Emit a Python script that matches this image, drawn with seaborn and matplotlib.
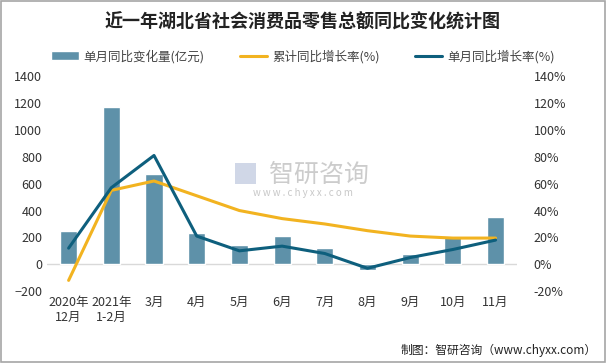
import numpy as np
import pandas as pd
import matplotlib.pyplot as plt
import seaborn as sns
from matplotlib.patches import Rectangle

sns.set_style("white")
plt.rcParams['font.family'] = ['Noto Sans CJK SC', 'DejaVu Sans']

# 数据
months = ["2020年\n12月", "2021年\n1-2月", "3月", "4月", "5月", "6月",
          "7月", "8月", "9月", "10月", "11月"]
change_amt = [248, 1168, 675, 230, 140, 208, 120, -45, 75, 200, 350]
cum_rate = [-12, 55, 62, 51, 40, 34, 30, 25, 21, 19.5, 19.5]
month_rate = [12, 57, 81, 21, 10, 13.5, 8, -3, 5, 11, 18]

bar_c = "#5e91a9"
cum_c = "#f2b320"
mon_c = "#0e5f7d"

df = pd.DataFrame({"month": months, "amt": change_amt})
pos = np.arange(len(months))

fig = plt.figure(figsize=(6.06, 3.63), dpi=100)
ax = fig.add_axes([0.078, 0.198, 0.775, 0.592])

sns.barplot(data=df, x="month", y="amt", color=bar_c, width=0.4,
            saturation=1, ax=ax, label="单月同比变化量(亿元)")
ax.set_ylim(-200, 1400)
ax.set_yticks(range(-200, 1401, 200))
ax.set_xlim(-0.5, len(months) - 0.5)
ax.axhline(0, color="#d9d9d9", lw=1, zorder=0)
ax.set_xlabel("")
ax.set_ylabel("")
ax.tick_params(axis="both", labelsize=9, length=0, colors="#333333")
for s in ax.spines.values():
    s.set_visible(False)

ax2 = ax.twinx()
sns.lineplot(x=pos, y=cum_rate, color=cum_c, lw=2.2, ax=ax2, label="累计同比增长率(%)")
sns.lineplot(x=pos, y=month_rate, color=mon_c, lw=2.2, ax=ax2, label="单月同比增长率(%)")
ax2.set_ylim(-20, 140)
ax2.set_yticks(range(-20, 141, 20))
ax2.set_yticklabels([f"{v}%" for v in range(-20, 141, 20)])
ax2.tick_params(axis="y", labelsize=9, length=0, colors="#333333", pad=12)
for s in ax2.spines.values():
    s.set_visible(False)

h1, l1 = ax.get_legend_handles_labels()
h2, l2 = ax2.get_legend_handles_labels()
for a in (ax, ax2):
    if a.get_legend() is not None:
        a.get_legend().remove()
fig.legend(h1 + h2, l1 + l2, loc="center", bbox_to_anchor=(0.5, 0.845), ncol=3,
           frameon=False, fontsize=9, handlelength=2.2, columnspacing=2.8,
           handletextpad=0.4, labelcolor="#444444")

fig.text(0.5, 0.94, "近一年湖北省社会消费品零售总额同比变化统计图", ha="center", va="center",
         fontsize=13, fontweight="bold", color="#222222")

# 水印
fig.text(0.527, 0.518, "智研咨询", ha="center", va="center", fontsize=18,
         color="#c4c4c4", alpha=0.85)
fig.text(0.5, 0.468, "w w w . c h y x x . c o m", ha="center", va="center",
         fontsize=7, color="#c8c8c8")
fig.patches.append(Rectangle((0.387, 0.492), 0.036, 0.058, transform=fig.transFigure,
                             fill=True, facecolor="#c5cee2", edgecolor="none", alpha=0.8))

fig.text(0.985, 0.035, "制图：智研咨询（www.chyxx.com）", ha="right", va="center",
         fontsize=8.5, color="#222222")

fig.patches.append(Rectangle((0.001, 0.002), 0.997, 0.995, transform=fig.transFigure,
                             fill=False, edgecolor="#a6a6a6", lw=1.2))

fig.savefig("out.png", dpi=100)
